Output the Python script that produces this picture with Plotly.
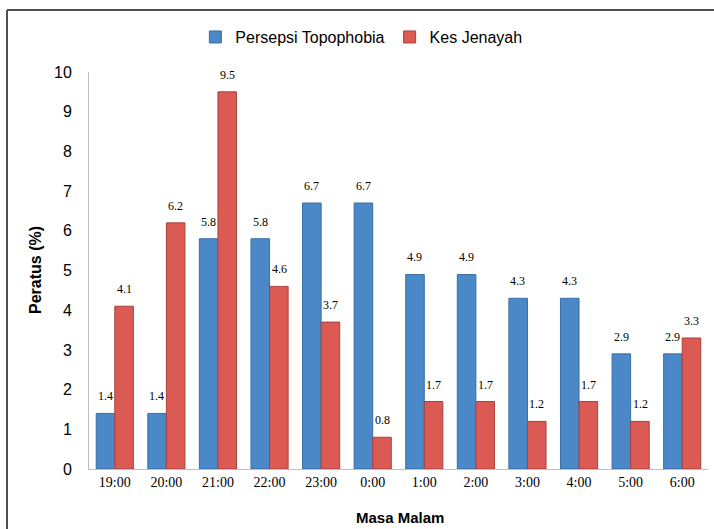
import plotly.graph_objects as go

categories = ["19:00", "20:00", "21:00", "22:00", "23:00", "0:00",
              "1:00", "2:00", "3:00", "4:00", "5:00", "6:00"]
persepsi = [1.4, 1.4, 5.8, 5.8, 6.7, 6.7, 4.9, 4.9, 4.3, 4.3, 2.9, 2.9]
jenayah = [4.1, 6.2, 9.5, 4.6, 3.7, 0.8, 1.7, 1.7, 1.2, 1.7, 1.2, 3.3]
y_ticks = list(range(0, 11))

label_font = dict(family="Liberation Serif, serif", size=12, color="#000000")

fig = go.Figure()
fig.add_trace(go.Bar(
    name="Persepsi Topophobia", x=categories, y=persepsi,
    marker=dict(color="#4A88C7", line=dict(color="#3A6FA6", width=1)),
))
fig.add_trace(go.Bar(
    name="Kes Jenayah", x=categories, y=jenayah,
    marker=dict(color="#DC5A54", line=dict(color="#A8403C", width=1)),
))

annotations = []
for series, shift in ((persepsi, -9.5), (jenayah, 9.5)):
    for c, v in zip(categories, series):
        annotations.append(dict(x=c, y=v, text=f"{v:.1f}", showarrow=False,
                                xshift=shift, yshift=17, font=label_font,
                                xanchor="center", yanchor="middle"))

annotations += [
    dict(text="<b>Peratus (%)</b>", xref="paper", yref="paper",
         x=(35 - 89) / 619, y=(469 - 270) / 397, textangle=-90, showarrow=False,
         font=dict(family="Liberation Sans, sans-serif", size=16, color="#000"),
         xanchor="center", yanchor="middle"),
    dict(text="<b>Masa Malam</b>", xref="paper", yref="paper",
         x=(400 - 89) / 619, y=-(517 - 469) / 397, showarrow=False,
         font=dict(family="Liberation Sans, sans-serif", size=15, color="#000"),
         xanchor="center", yanchor="middle"),
]

fig.update_layout(
    width=714, height=529,
    margin=dict(l=89, r=6, t=72, b=60, autoexpand=False),
    paper_bgcolor="white", plot_bgcolor="white",
    barmode="group", bargap=0.28, bargroupgap=0,
    showlegend=True,
    legend=dict(orientation="h", x=0.44, xanchor="center", y=1.088, yanchor="middle",
                bgcolor="rgba(0,0,0,0)", itemwidth=30,
                font=dict(family="Liberation Sans, sans-serif", size=16, color="#000"),
                traceorder="normal"),
    font=dict(family="Liberation Sans, sans-serif"),
    xaxis=dict(showline=True, linecolor="#BFBFBF", linewidth=1, ticks="",
               tickfont=dict(family="Liberation Serif, serif", size=14, color="#000"),
               showgrid=False, zeroline=False),
    yaxis=dict(range=[0, 10], tickvals=y_ticks, showline=True, linecolor="#BFBFBF",
               linewidth=1, ticks="", showgrid=False, zeroline=False,
               tickfont=dict(family="Liberation Sans, sans-serif", size=16, color="#000"),
               ticklabelstandoff=13),
    annotations=annotations,
    shapes=[
        dict(type="line", xref="paper", yref="paper",
             x0=(7 - 89) / 619, x1=(7 - 89) / 619, y0=-0.2, y1=(469 - 10) / 397,
             line=dict(color="#505050", width=2)),
        dict(type="line", xref="paper", yref="paper",
             x0=(7 - 89) / 619, x1=(714 - 89) / 619, y0=(469 - 10) / 397, y1=(469 - 10) / 397,
             line=dict(color="#505050", width=2)),
    ],
)

fig.write_html("out.html", config={"displayModeBar": False},
               post_script="document.body.style.margin='0';document.body.style.overflow='hidden';")
